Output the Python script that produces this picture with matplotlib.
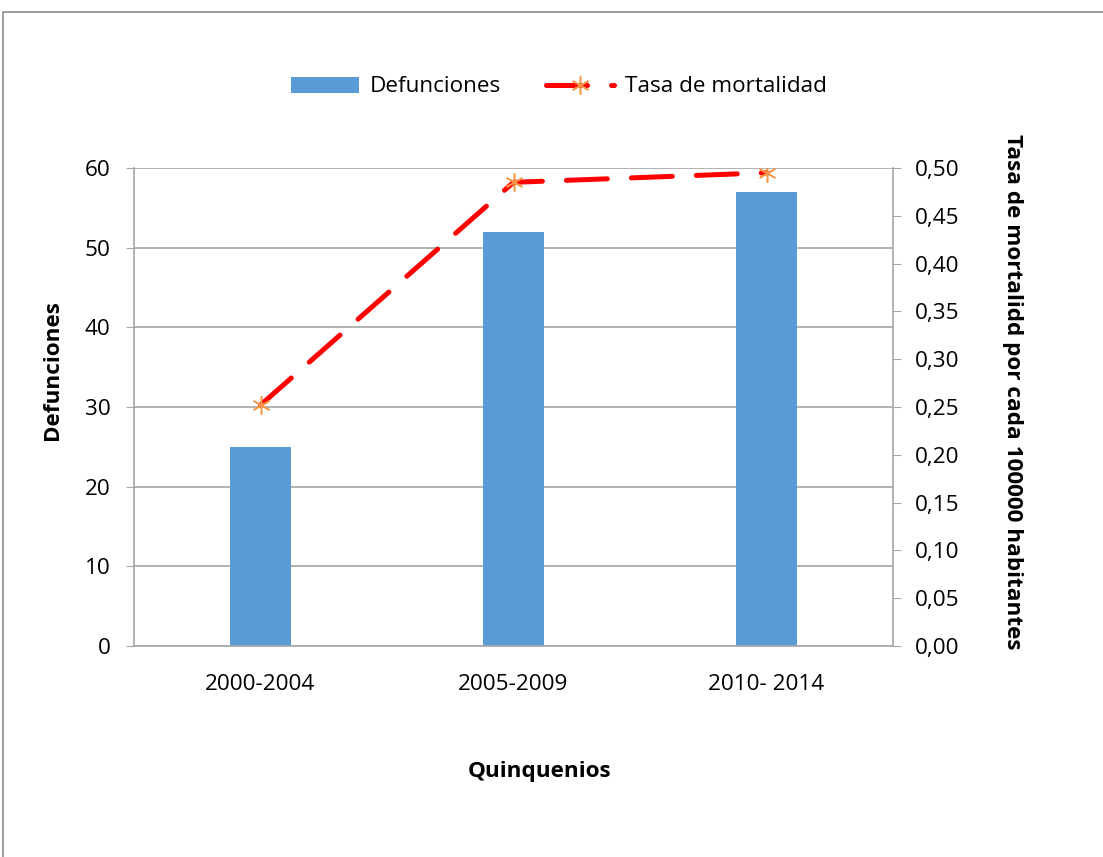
import matplotlib
matplotlib.use("Agg")
import matplotlib.pyplot as plt
from matplotlib.patches import Rectangle
from matplotlib.ticker import FuncFormatter, MultipleLocator

categories = ["2000-2004", "2005-2009", "2010- 2014"]
defunciones = [25, 52, 57]
tasa = [0.252, 0.485, 0.495]

plt.rcParams['font.family'] = ['Open Sans', 'DejaVu Sans']
FS = 16.2
GRID = '#A6A6A6'

fig = plt.figure(figsize=(11.03, 8.57), dpi=100)
fig.patch.set_facecolor('white')
fig.add_artist(Rectangle((3/1103, -0.05), 1.2, 1 - 12/857 + 0.05,
                         transform=fig.transFigure, fill=False,
                         edgecolor='#8C8C8C', lw=1.2))

ax = fig.add_axes([134/1103, 1 - 646/857, (893 - 134)/1103, (646 - 168)/857])
x = list(range(len(categories)))
bars = ax.bar(x, defunciones, width=0.245, color='#5B9BD5', zorder=2, label='Defunciones')
ax.set_xlim(-0.5, len(categories) - 0.5)
ax.set_ylim(0, 60)
ax.yaxis.set_major_locator(MultipleLocator(10))
ax.grid(axis='y', color=GRID, lw=1.2, zorder=0)
ax.set_axisbelow(True)
ax.set_xticks(x)
ax.set_xticklabels(categories, fontsize=FS)
ax.tick_params(axis='x', length=0, pad=20)
ax.tick_params(axis='y', labelsize=FS, length=6, color=GRID, pad=11)
for s in ['top', 'right']:
    ax.spines[s].set_visible(False)
for s in ['left', 'bottom']:
    ax.spines[s].set_color(GRID)
    ax.spines[s].set_linewidth(1.2)

ax2 = ax.twinx()
line, = ax2.plot(x, tasa, color='#FF0000', lw=3.6, dashes=(8.2, 4.8),
                 dash_capstyle='round', zorder=3)
marks, = ax2.plot(x, tasa, linestyle='none', marker=(6, 2, 0), markersize=13,
                  markeredgecolor='#F79646', markerfacecolor='#F79646',
                  markeredgewidth=1.1, zorder=4)
ax2.set_ylim(0, 0.5)
ax2.yaxis.set_major_locator(MultipleLocator(0.05))
ax2.yaxis.set_major_formatter(FuncFormatter(lambda v, p: f"{v:.2f}".replace('.', ',')))
ax2.tick_params(axis='y', labelsize=FS, length=6, color=GRID, pad=10)
for s in ['top', 'left', 'bottom']:
    ax2.spines[s].set_visible(False)
ax2.spines['right'].set_color(GRID)
ax2.spines['right'].set_linewidth(1.2)

fig.text(540/1103, 1 - 772/857, 'Quinquenios', fontsize=FS, fontweight='bold',
         ha='center', va='center')
fig.text(52/1103, 1 - 370/857, 'Defunciones', fontsize=FS, fontweight='bold',
         ha='center', va='center', rotation=90)
fig.text(1012/1103, 1 - 392/857, 'Tasa de mortalidd por cada 100000 habitantes',
         fontsize=FS, fontweight='bold', ha='center', va='center', rotation=-90)

fig.legend([bars, (line, marks)], ['Defunciones', 'Tasa de mortalidad'], loc='center',
           bbox_to_anchor=(559/1103, 1 - 87/857), ncol=2, frameon=False,
           fontsize=FS, handlelength=3.0, columnspacing=2.0, handletextpad=0.5)

fig.savefig('out.png', dpi=100, facecolor='white')
